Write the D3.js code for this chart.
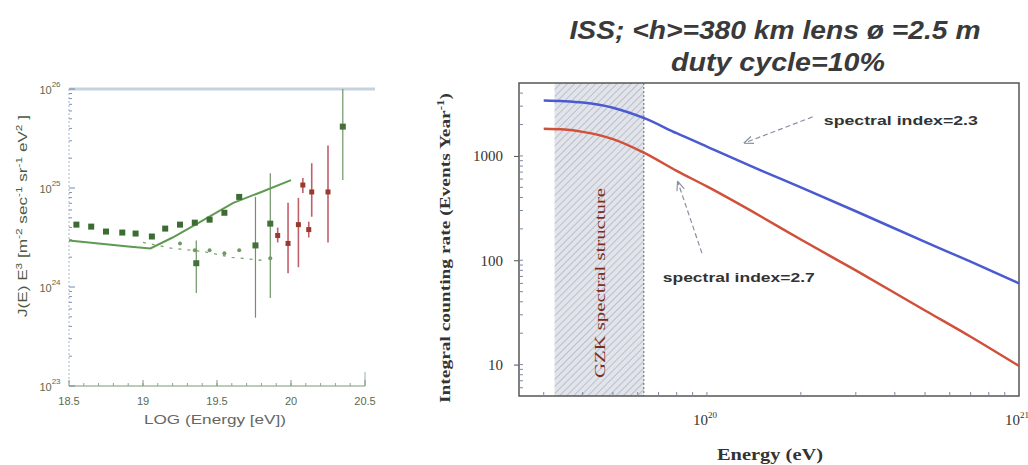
<!DOCTYPE html>
<html>
<head>
<meta charset="utf-8">
<script src="https://cdn.jsdelivr.net/npm/d3@7"></script>
<style>
    body { margin: 0; background: #fff; }
    svg { display: block; }
</style>
</head>
<body>
<div id="chart"></div>
<script>
// ---- left panel: J(E) E^3 vs LOG(Energy) ----
const leftXTicks = [18.5, 19, 19.5, 20, 20.5];
const leftYTicks = [23, 24, 25, 26];

// upper sequence of filled points
const agasaLogE = [18.55, 18.65, 18.75, 18.86, 18.95, 19.06, 19.15, 19.25, 19.35, 19.45, 19.55, 19.65];
const agasaLogJ = [24.63, 24.61, 24.56, 24.55, 24.54, 24.51, 24.59, 24.63, 24.65, 24.68, 24.75, 24.91];

// lower sequence of small green points
const lowLogE = [19.25, 19.35, 19.45, 19.55, 19.65, 19.86];
const lowLogJ = [24.44, 24.37, 24.37, 24.34, 24.37, 24.29];

// green points with large error bars
const wideLogE = [19.36, 19.76, 19.86, 20.35];
const wideLogJ = [24.24, 24.42, 24.64, 25.62];
const wideLo = [23.94, 23.69, 23.89, 25.08];
const wideHi = [24.47, 24.91, 25.15, 26.0];

// red points with error bars
const redLogE = [19.91, 19.98, 20.05, 20.08, 20.12, 20.14, 20.25];
const redLogJ = [24.52, 24.44, 24.63, 25.03, 24.58, 24.96, 24.96];
const redLo = [24.45, 24.14, 24.2, 24.95, 24.5, 24.71, 24.45];
const redHi = [24.6, 24.85, 24.9, 25.1, 24.66, 25.25, 25.43];

// model curves
const modelLogE = [18.5, 18.7, 18.9, 19.05, 19.2, 19.39, 19.61, 19.8, 20.0];
const modelLogJ = [24.47, 24.44, 24.41, 24.39, 24.5, 24.66, 24.85, 24.96, 25.08];
const dashLogE = [19.0, 19.2, 19.4, 19.6, 19.8];
const dashLogJ = [24.45, 24.39, 24.36, 24.3, 24.27];

// ---- right panel: integral counting rate ----
const rateEnergy = [3.0e19, 3.5e19, 4e19, 5e19, 6.3e19, 8e19, 1e20, 1.5e20, 2e20, 3e20, 5e20, 7e20, 1e21];
const rateIndex23 = [3400, 3350, 3250, 2900, 2300, 1650, 1230, 720, 500, 295, 150, 97, 60];
const rateIndex27 = [1820, 1790, 1700, 1450, 1070, 720, 510, 260, 158, 80, 33, 18.5, 9.7];
const gzkBand = [3.25e19, 6.28e19];
const rightYTicks = [10, 100, 1000];
const rightXTicks = [1e20, 1e21];
const rightXLabels = ['20', '21'];

const W = 1028, H = 465;
const svg = d3.select('#chart').append('svg')
    .attr('width', W)
    .attr('height', H)
    .style('font-family', '"Liberation Serif", serif');

// ================= left panel =================
const L = { left: 69, right: 365, top: 89, bottom: 386 };
const xL = d3.scaleLinear().domain([18.5, 20.5]).range([L.left, L.right]);
const yL = d3.scaleLinear().domain([23, 26]).range([L.bottom, L.top]);
const gL = svg.append('g');

// frame
gL.append('line').attr('x1', L.left).attr('x2', L.right + 10).attr('y1', L.top).attr('y2', L.top)
    .attr('stroke', '#c6d2dc').attr('stroke-width', 3);
gL.append('line').attr('x1', L.left).attr('x2', L.right).attr('y1', L.bottom).attr('y2', L.bottom)
    .attr('stroke', '#7d9a6e').attr('stroke-width', 1.2);
gL.append('line').attr('x1', L.left).attr('x2', L.left).attr('y1', L.top).attr('y2', L.bottom)
    .attr('stroke', '#a9b8d0').attr('stroke-width', 1).attr('stroke-dasharray', '2,2');
gL.append('line').attr('x1', L.right).attr('x2', L.right).attr('y1', L.bottom - 14).attr('y2', L.bottom)
    .attr('stroke', '#9aa8b8').attr('stroke-width', 1);

// minor ticks
const yMinor = [];
[23, 24, 25].forEach(d => d3.range(2, 10).forEach(k => yMinor.push(d + Math.log10(k))));
gL.append('g').selectAll('line').data(yMinor).join('line')
    .attr('x1', L.left).attr('x2', L.left + 3)
    .attr('y1', d => yL(d)).attr('y2', d => yL(d))
    .attr('stroke', '#7f93b8').attr('stroke-width', 1);
gL.append('g').selectAll('line').data(leftYTicks).join('line')
    .attr('x1', L.left).attr('x2', L.left + 6)
    .attr('y1', d => yL(d)).attr('y2', d => yL(d))
    .attr('stroke', '#6f8aa8').attr('stroke-width', 1);
gL.append('g').selectAll('line').data(d3.range(18.6, 20.5, 0.1)).join('line')
    .attr('x1', d => xL(d)).attr('x2', d => xL(d))
    .attr('y1', L.bottom).attr('y2', L.bottom - 3)
    .attr('stroke', '#8a9fb8').attr('stroke-width', 1);
gL.append('g').selectAll('line').data(leftXTicks).join('line')
    .attr('x1', d => xL(d)).attr('x2', d => xL(d))
    .attr('y1', L.bottom).attr('y2', L.bottom - 6)
    .attr('stroke', '#7d9a6e').attr('stroke-width', 1);

// tick labels
gL.append('g').selectAll('text').data(leftXTicks).join('text')
    .attr('x', d => xL(d)).attr('y', L.bottom + 19)
    .attr('text-anchor', 'middle')
    .style('font-family', '"Liberation Sans", sans-serif')
    .style('font-size', '11px').attr('fill', '#5a6a4e')
    .text(d => d);
const yt = gL.append('g').selectAll('text').data(leftYTicks).join('text')
    .attr('x', L.left - 19).attr('y', d => yL(d) + 5)
    .attr('text-anchor', 'middle')
    .style('font-family', '"Liberation Sans", sans-serif')
    .style('font-size', '11px').attr('fill', '#5a6a4e');
yt.append('tspan').text('10');
yt.append('tspan').attr('dy', -7).style('font-size', '8px').text(d => d);

// axis titles
gL.append('text')
    .attr('x', (L.left + L.right) / 2 - 2).attr('y', 424)
    .attr('text-anchor', 'middle')
    .style('font-family', '"Liberation Sans", sans-serif')
    .style('font-size', '12px').attr('fill', '#666')
    .attr('textLength', 142).attr('lengthAdjust', 'spacingAndGlyphs')
    .text('LOG (Energy [eV])');
const ylab = gL.append('text')
    .attr('transform', 'translate(27,216) rotate(-90)')
    .attr('text-anchor', 'middle')
    .style('font-family', '"Liberation Sans", sans-serif')
    .style('font-size', '13px').attr('fill', '#4a5a3e')
    .attr('textLength', 202).attr('lengthAdjust', 'spacingAndGlyphs');
ylab.append('tspan').text('J(E) E');
ylab.append('tspan').attr('dy', -5).style('font-size', '9px').text('3');
ylab.append('tspan').attr('dy', 5).text(' [m');
ylab.append('tspan').attr('dy', -5).style('font-size', '9px').text('-2');
ylab.append('tspan').attr('dy', 5).text(' sec');
ylab.append('tspan').attr('dy', -5).style('font-size', '9px').text('-1');
ylab.append('tspan').attr('dy', 5).text(' sr');
ylab.append('tspan').attr('dy', -5).style('font-size', '9px').text('-1');
ylab.append('tspan').attr('dy', 5).text(' eV');
ylab.append('tspan').attr('dy', -5).style('font-size', '9px').text('2');
ylab.append('tspan').attr('dy', 5).text(' ]');

// model curves
const lineL = d3.line().x(d => xL(d[0])).y(d => yL(d[1]));
gL.append('path').datum(d3.zip(modelLogE, modelLogJ))
    .attr('d', lineL).attr('fill', 'none')
    .attr('stroke', '#5e9a52').attr('stroke-width', 2);
gL.append('path').datum(d3.zip(dashLogE, dashLogJ))
    .attr('d', lineL).attr('fill', 'none')
    .attr('stroke', '#7aa86e').attr('stroke-width', 1.3).attr('stroke-dasharray', '3,6');

// error bars
const wide = d3.zip(wideLogE, wideLogJ, wideLo, wideHi);
gL.append('g').selectAll('line').data(wide).join('line')
    .attr('x1', d => xL(d[0])).attr('x2', d => xL(d[0]))
    .attr('y1', d => yL(d[2])).attr('y2', d => yL(d[3]))
    .attr('stroke', '#6e9466').attr('stroke-width', 1.2);
const red = d3.zip(redLogE, redLogJ, redLo, redHi);
gL.append('g').selectAll('line').data(red).join('line')
    .attr('x1', d => xL(d[0])).attr('x2', d => xL(d[0]))
    .attr('y1', d => yL(d[2])).attr('y2', d => yL(d[3]))
    .attr('stroke', '#c0606a').attr('stroke-width', 1.6);

// points
gL.append('g').selectAll('rect').data(d3.zip(agasaLogE, agasaLogJ)).join('rect')
    .attr('x', d => xL(d[0]) - 3).attr('y', d => yL(d[1]) - 3)
    .attr('width', 6).attr('height', 6)
    .attr('fill', '#3d6b34');
gL.append('g').selectAll('circle').data(d3.zip(lowLogE, lowLogJ)).join('circle')
    .attr('cx', d => xL(d[0])).attr('cy', d => yL(d[1])).attr('r', 2)
    .attr('fill', '#6d9a62');
gL.append('g').selectAll('rect').data(wide).join('rect')
    .attr('x', d => xL(d[0]) - 3).attr('y', d => yL(d[1]) - 3)
    .attr('width', 6).attr('height', 6)
    .attr('fill', '#44703a');
gL.append('g').selectAll('rect').data(red).join('rect')
    .attr('x', d => xL(d[0]) - 2.5).attr('y', d => yL(d[1]) - 2.5)
    .attr('width', 5).attr('height', 5)
    .attr('fill', '#9a3a2e');

// ================= right panel =================
const R = { left: 519, right: 1019, top: 83, bottom: 396 };
const xR = d3.scaleLog().domain([2.5e19, 1e21]).range([R.left, R.right]);
const yR = d3.scaleLog().domain([5, 5000]).range([R.bottom, R.top]);
const gR = svg.append('g');

// hatch pattern for GZK band
const defs = svg.append('defs');
const pat = defs.append('pattern')
    .attr('id', 'hatch')
    .attr('patternUnits', 'userSpaceOnUse')
    .attr('width', 5).attr('height', 5)
    .attr('patternTransform', 'rotate(45)');
pat.append('rect').attr('width', 5).attr('height', 5).attr('fill', '#e2e4ec');
pat.append('line').attr('x1', 0).attr('y1', 0).attr('x2', 0).attr('y2', 5)
    .attr('stroke', '#a4a6b0').attr('stroke-width', 1.2);
defs.append('marker')
    .attr('id', 'arrow')
    .attr('viewBox', '0 -5 10 10')
    .attr('refX', 9).attr('refY', 0)
    .attr('markerWidth', 8).attr('markerHeight', 8)
    .attr('orient', 'auto')
    .append('path')
    .attr('d', 'M0,-4L10,0L0,4')
    .attr('fill', 'none').attr('stroke', '#8a90a0').attr('stroke-width', 1.2);

gR.append('rect')
    .attr('x', xR(gzkBand[0])).attr('y', R.top)
    .attr('width', xR(gzkBand[1]) - xR(gzkBand[0]))
    .attr('height', R.bottom - R.top)
    .attr('fill', 'url(#hatch)');
gR.append('line')
    .attr('x1', xR(gzkBand[1])).attr('x2', xR(gzkBand[1]))
    .attr('y1', R.top).attr('y2', R.bottom)
    .attr('stroke', '#666').attr('stroke-width', 1).attr('stroke-dasharray', '2,2');
gR.append('text')
    .attr('transform', `translate(${(xR(gzkBand[0]) + xR(gzkBand[1])) / 2 + 6},283) rotate(-90)`)
    .attr('text-anchor', 'middle')
    .style('font-size', '15px')
    .attr('fill', '#7a2e20')
    .attr('textLength', 190).attr('lengthAdjust', 'spacingAndGlyphs')
    .text('GZK spectral structure');

// frame
gR.append('rect')
    .attr('x', R.left).attr('y', R.top)
    .attr('width', R.right - R.left).attr('height', R.bottom - R.top)
    .attr('fill', 'none').attr('stroke', '#555').attr('stroke-width', 1.5);

// minor ticks
const xMinor = [];
[19, 20].forEach(d => d3.range(1, 10).forEach(k => xMinor.push(k * Math.pow(10, d))));
gR.append('g').selectAll('line')
    .data(xMinor.filter(v => v > 2.5e19 && v < 1e21)).join('line')
    .attr('x1', d => xR(d)).attr('x2', d => xR(d))
    .attr('y1', R.bottom).attr('y2', R.bottom - 4)
    .attr('stroke', '#7a88a8').attr('stroke-width', 1);
const yMinorR = [];
[0, 1, 2, 3].forEach(d => d3.range(1, 10).forEach(k => yMinorR.push(k * Math.pow(10, d))));
gR.append('g').selectAll('line')
    .data(yMinorR.filter(v => v > 5 && v < 5000)).join('line')
    .attr('x1', R.left).attr('x2', R.left + 4)
    .attr('y1', d => yR(d)).attr('y2', d => yR(d))
    .attr('stroke', '#7a88a8').attr('stroke-width', 1);

// axes
const yAxisR = d3.axisLeft(yR).tickValues(rightYTicks).tickFormat(d3.format('d'))
    .tickSize(5).tickPadding(11);
gR.append('g').attr('transform', `translate(${R.left},0)`).call(yAxisR)
    .call(g => g.select('.domain').remove())
    .call(g => g.selectAll('line').attr('stroke', '#555'))
    .call(g => g.selectAll('text')
        .style('font-family', '"Liberation Serif", serif')
        .style('font-size', '15px').attr('fill', '#333'));
const xAxisR = d3.axisBottom(xR).tickValues(rightXTicks).tickFormat(() => '')
    .tickSize(0);
gR.append('g').attr('transform', `translate(0,${R.bottom})`).call(xAxisR)
    .call(g => g.select('.domain').remove());
const xt = gR.append('g').selectAll('text').data(rightXTicks).join('text')
    .attr('x', d => xR(d) - 2).attr('y', R.bottom + 29)
    .attr('text-anchor', 'middle')
    .style('font-size', '15px').attr('fill', '#333');
xt.append('tspan').text('10');
xt.append('tspan').attr('dy', -7).style('font-size', '9px').text((d, i) => rightXLabels[i]);

// axis titles
gR.append('text')
    .attr('x', 770).attr('y', 460)
    .attr('text-anchor', 'middle')
    .style('font-size', '17px').style('font-weight', 'bold').attr('fill', '#333')
    .attr('textLength', 106).attr('lengthAdjust', 'spacingAndGlyphs')
    .text('Energy (eV)');
const ylabR = gR.append('text')
    .attr('transform', 'translate(450,248) rotate(-90)')
    .attr('text-anchor', 'middle')
    .style('font-size', '15px').style('font-weight', 'bold').attr('fill', '#333')
    .attr('textLength', 310).attr('lengthAdjust', 'spacingAndGlyphs');
ylabR.append('tspan').text('Integral counting rate (Events Year');
ylabR.append('tspan').attr('dy', -6).style('font-size', '10px').text('-1');
ylabR.append('tspan').attr('dy', 6).text(')');

// title
svg.append('text')
    .attr('x', 775).attr('y', 39)
    .attr('text-anchor', 'middle')
    .style('font-family', '"Liberation Sans", sans-serif')
    .style('font-size', '25px').style('font-weight', 'bold').style('font-style', 'italic')
    .attr('fill', '#3a3a3a')
    .attr('textLength', 411).attr('lengthAdjust', 'spacingAndGlyphs')
    .text('ISS; <h>=380 km lens \u00f8 =2.5 m');
svg.append('text')
    .attr('x', 778).attr('y', 71)
    .attr('text-anchor', 'middle')
    .style('font-family', '"Liberation Sans", sans-serif')
    .style('font-size', '25px').style('font-weight', 'bold').style('font-style', 'italic')
    .attr('fill', '#3a3a3a')
    .attr('textLength', 214).attr('lengthAdjust', 'spacingAndGlyphs')
    .text('duty cycle=10%');

// rate curves
const lineR = d3.line().curve(d3.curveMonotoneX).x(d => xR(d[0])).y(d => yR(d[1]));
gR.append('path').datum(d3.zip(rateEnergy, rateIndex27))
    .attr('d', lineR).attr('fill', 'none')
    .attr('stroke', '#d0503a').attr('stroke-width', 2.5);
gR.append('path').datum(d3.zip(rateEnergy, rateIndex23))
    .attr('d', lineR).attr('fill', 'none')
    .attr('stroke', '#4a5ad0').attr('stroke-width', 2.5);

// annotations
const notes = [
    { text: 'spectral index=2.3', tx: 2.37e20, ty: 2000, len: 154, from: [2.18e20, 2366], to: [1.32e20, 1333] },
    { text: 'spectral index=2.7', tx: 7.22e19, ty: 62, len: 152, from: [9.64e19, 117], to: [8.07e19, 563] }
];
notes.forEach(n => {
    gR.append('line')
        .attr('x1', xR(n.from[0])).attr('y1', yR(n.from[1]))
        .attr('x2', xR(n.to[0])).attr('y2', yR(n.to[1]))
        .attr('stroke', '#8a90a0').attr('stroke-width', 1.2)
        .attr('stroke-dasharray', '5,3')
        .attr('marker-end', 'url(#arrow)');
    gR.append('text')
        .attr('x', xR(n.tx)).attr('y', yR(n.ty))
        .style('font-family', '"Liberation Sans", sans-serif')
        .style('font-size', '13px').style('font-weight', 'bold')
        .attr('fill', '#333')
        .attr('textLength', n.len).attr('lengthAdjust', 'spacingAndGlyphs')
        .text(n.text);
});
</script>
</body>
</html>
